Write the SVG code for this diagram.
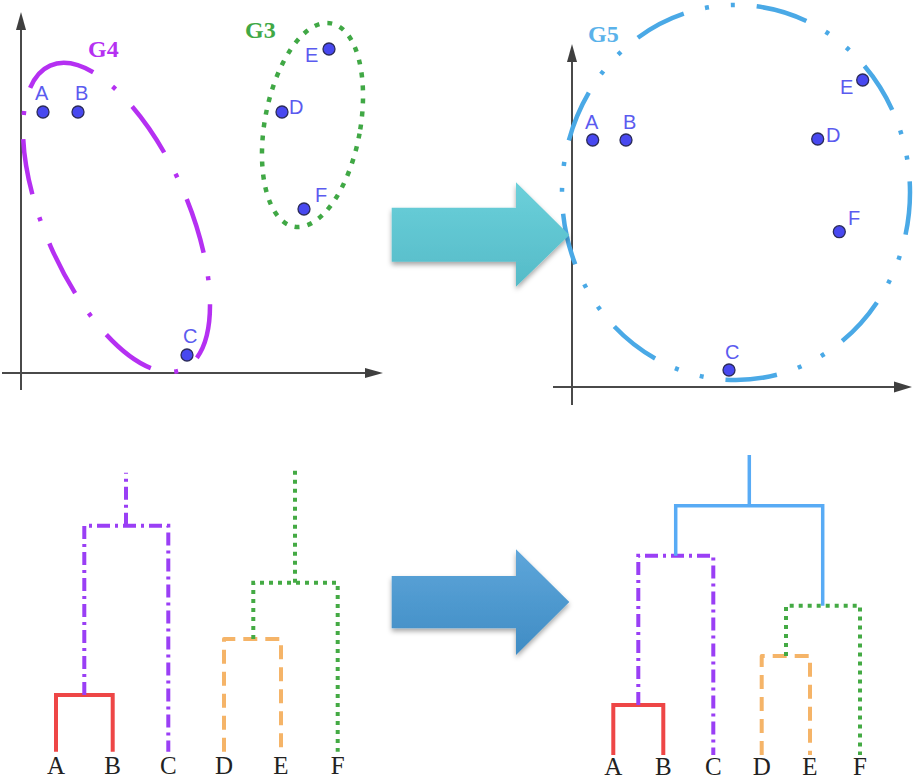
<svg xmlns="http://www.w3.org/2000/svg" width="924" height="780" viewBox="0 0 924 780">
<style>
.axis{stroke:#4a4a4a;stroke-width:2;fill:none}
.ah{fill:#3f3f3f}
.pt{fill:#4848f0;stroke:#2b2b5a;stroke-width:1.3}
.pl{font-family:"Liberation Sans",Arial,sans-serif;font-size:20px;fill:#5b5bef}
.gl{font-family:"Liberation Serif","Times New Roman",serif;font-size:24px;font-weight:bold}
.leaf{font-family:"Liberation Serif","Times New Roman",serif;font-size:25px;fill:#222;text-anchor:middle}
.red{stroke:#ee4646;stroke-width:4;fill:none}
.pur{stroke:#9a3ff5;stroke-width:4;fill:none;stroke-dasharray:13 5 3 5}
.org{stroke:#f5b468;stroke-width:4;fill:none;stroke-dasharray:14 8;stroke-linejoin:round}
.grn{stroke:#44aa44;stroke-width:4;fill:none;stroke-dasharray:4 5}
.blu{stroke:#58abf5;stroke-width:3.5;fill:none}
</style>
<defs>
<linearGradient id="gTeal" x1="0" y1="0" x2="0" y2="1">
<stop offset="0" stop-color="#6bd0da"/><stop offset="1" stop-color="#55bbc8"/>
</linearGradient>
<linearGradient id="gBlue" x1="0" y1="0" x2="0" y2="1">
<stop offset="0" stop-color="#5ea6da"/><stop offset="1" stop-color="#3f8cc4"/>
</linearGradient>
<filter id="sh" x="-10%" y="-10%" width="130%" height="130%">
<feDropShadow dx="0" dy="3" stdDeviation="2.5" flood-color="#000" flood-opacity="0.35"/>
</filter>
</defs>

<!-- Left scatter plot -->
<g id="plot-left">
<line class="axis" x1="21" y1="26" x2="21" y2="390"/>
<polygon class="ah" points="21,12 16,30 26,30"/>
<line class="axis" x1="2" y1="373" x2="368" y2="373"/>
<polygon class="ah" points="383,373 365,368 365,378"/>
</g>
<g id="cluster-G4">
<ellipse cx="0" cy="0" rx="165.7" ry="71.9" transform="translate(116.5,217.5) rotate(66.4)" fill="none" stroke="#b530f2" stroke-width="4.5" stroke-dasharray="4 24 56 24 4 24 56 24 4 24 56 24 4 24 76 24 4 24 56 24 4 24 56 24 4 24 56 24" stroke-dashoffset="-5"/>
<text class="gl" x="88" y="57" fill="#b530f2">G4</text>
</g>
<g id="cluster-G3">
<ellipse cx="0" cy="0" rx="47.8" ry="103.3" transform="translate(312.5,125) rotate(10.3)" fill="none" stroke="#40a845" stroke-width="4.5" stroke-dasharray="5 8"/>
<text class="gl" x="245" y="38" fill="#40a845">G3</text>
</g>
<g id="L-A"><circle class="pt" cx="43" cy="112" r="6"/><text class="pl" x="35" y="100">A</text></g>
<g id="L-B"><circle class="pt" cx="78" cy="112" r="6"/><text class="pl" x="75" y="100">B</text></g>
<g id="L-C"><circle class="pt" cx="187" cy="355" r="6"/><text class="pl" x="183" y="343">C</text></g>
<g id="L-D"><circle class="pt" cx="282" cy="112" r="6"/><text class="pl" x="289" y="114">D</text></g>
<g id="L-E"><circle class="pt" cx="329" cy="49" r="6"/><text class="pl" x="305" y="62">E</text></g>
<g id="L-F"><circle class="pt" cx="304" cy="209" r="6"/><text class="pl" x="315" y="202">F</text></g>

<!-- Right scatter plot -->
<g id="plot-right">
<line class="axis" x1="572" y1="58" x2="572" y2="405"/>
<polygon class="ah" points="572,44 567,62 577,62"/>
<line class="axis" x1="553" y1="387" x2="897" y2="387"/>
<polygon class="ah" points="912,387 894,381.5 894,392.5"/>
</g>
<g id="cluster-G5">
<ellipse cx="736" cy="192.5" rx="174" ry="187.5" fill="none" stroke="#4aa9e6" stroke-width="4.5" stroke-dasharray="52 22 4 22 4 22" stroke-dashoffset="9.5"/>
<text class="gl" x="588" y="42" fill="#5ab2ea">G5</text>
</g>
<g id="R-A"><circle class="pt" cx="592.7" cy="140" r="6"/><text class="pl" x="585" y="129">A</text></g>
<g id="R-B"><circle class="pt" cx="626" cy="140" r="6"/><text class="pl" x="623" y="129">B</text></g>
<g id="R-C"><circle class="pt" cx="729" cy="370" r="6"/><text class="pl" x="725" y="359">C</text></g>
<g id="R-D"><circle class="pt" cx="817.7" cy="139" r="6"/><text class="pl" x="826" y="142">D</text></g>
<g id="R-E"><circle class="pt" cx="862.7" cy="80" r="6"/><text class="pl" x="840" y="94">E</text></g>
<g id="R-F"><circle class="pt" cx="839.3" cy="231.7" r="6"/><text class="pl" x="848" y="225">F</text></g>

<!-- Left dendrogram -->
<g id="dendro-left-connectors">
<path class="red" d="M56,751.7 V695 H112.7 V751.7"/>
<path class="pur" d="M84.3,695 V525.7 H168.3 V751.7"/>
<path class="pur" d="M126,525.7 V472.7"/>
<path class="org" d="M224,751.7 V639 H281 V751.7"/>
<path class="grn" d="M253.3,639 V582.7 H337.7 V751.7"/>
<path class="grn" d="M295,582.7 V470"/>
</g>
<g id="dendro-left-leaves">
<text class="leaf" x="56" y="773.5">A</text>
<text class="leaf" x="112.7" y="773.5">B</text>
<text class="leaf" x="168.3" y="773.5">C</text>
<text class="leaf" x="224" y="773.5">D</text>
<text class="leaf" x="281" y="773.5">E</text>
<text class="leaf" x="337.7" y="773.5">F</text>
</g>

<!-- Right dendrogram -->
<g id="dendro-right-connectors">
<path class="red" d="M613.3,755 V705 H663.3 V755"/>
<path class="pur" d="M638.3,705 V555.7 H713.3 V755"/>
<path class="org" d="M761.7,755 V656 H810 V755"/>
<path class="grn" d="M786,656 V605.7 H860 V755"/>
<path class="blu" d="M675.7,555.7 V505.7 H822.7 V605.7"/>
<path class="blu" d="M749.3,505.7 V455"/>
</g>
<g id="dendro-right-leaves">
<text class="leaf" x="613.3" y="775">A</text>
<text class="leaf" x="663.3" y="775">B</text>
<text class="leaf" x="713.3" y="775">C</text>
<text class="leaf" x="761.7" y="775">D</text>
<text class="leaf" x="810" y="775">E</text>
<text class="leaf" x="860" y="775">F</text>
</g>

<!-- Big arrows -->
<g id="arrow-top">
<polygon points="391.7,207.7 516,207.7 516,182.3 569.3,235 516,286.7 516,261.7 391.7,261.7" fill="url(#gTeal)" filter="url(#sh)"/>
</g>
<g id="arrow-bottom">
<polygon points="391.7,576 516,576 516,549.3 569.3,602 516,655 516,628.3 391.7,628.3" fill="url(#gBlue)" filter="url(#sh)"/>
</g>
</svg>
